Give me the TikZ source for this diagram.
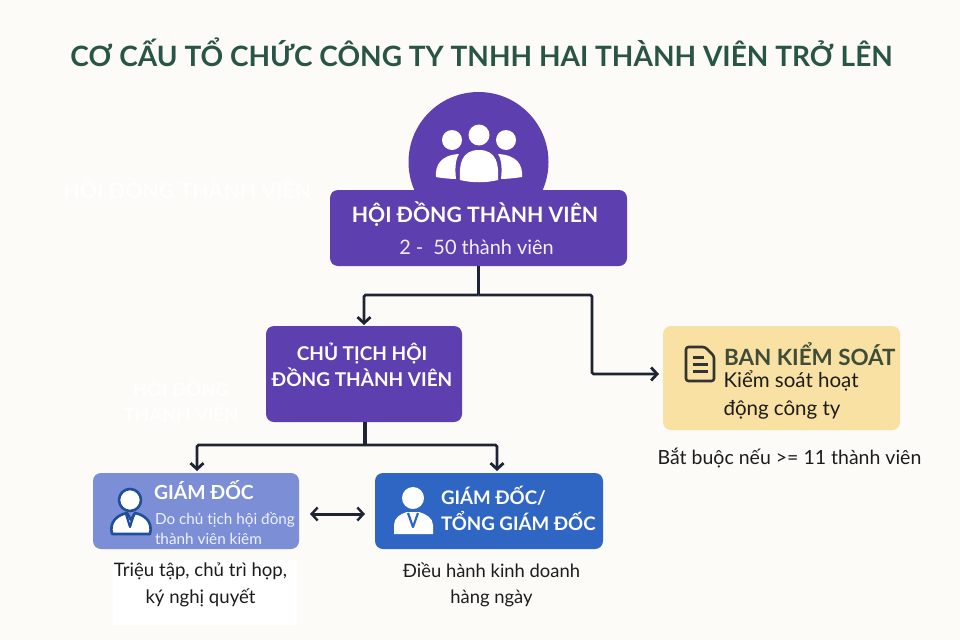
\documentclass[tikz,border=0pt]{standalone}
\usepackage{fontspec}
\setmainfont{Lato}
\usetikzlibrary{arrows.meta,calc}
\definecolor{bgc}{HTML}{FDFBF7}
\definecolor{purp}{HTML}{5E3FAF}
\definecolor{lblue}{HTML}{7C8FD6}
\definecolor{dblue}{HTML}{2F66C3}
\definecolor{iconblue}{HTML}{1F4E9C}
\definecolor{yel}{HTML}{F8E1A3}
\definecolor{titlec}{HTML}{285545}
\definecolor{olive}{HTML}{3E4C38}
\definecolor{linec}{HTML}{1E2433}
\definecolor{ink}{HTML}{1C1C1C}
\tikzset{
  x=1pt,y=-1pt,
  card/.style={rounded corners=8pt,inner sep=0pt,outer sep=0pt,anchor=center},
  label/.style={inner sep=0pt,outer sep=0pt,align=center},
  flow/.style={draw=linec,line width=2.8pt,rounded corners=1.5pt,-{Straight Barb[length=6pt,width=13pt,line width=2.8pt]}},
  trunk/.style={draw=linec,line width=3.1pt},
  twoway/.style={draw=linec,line width=3pt,{Straight Barb[length=6pt,width=13pt,line width=2.4pt]}-{Straight Barb[length=6pt,width=13pt,line width=2.4pt]}},
  ghost/.style={label,text=white,opacity=.8,font=\bfseries},
}
\begin{document}
\begin{tikzpicture}
\useasboundingbox (0,0) rectangle (960,640);
\fill[bgc] (0,0) rectangle (960,640);
\fill[white] (113,560) rectangle (297,625);
% ghost texts
\node[ghost,font=\bfseries\fontsize{21.3}{25}\selectfont] (g1) at (187.5,190) {HỘI ĐỒNG THÀNH VIÊN};
\node[ghost,font=\bfseries\fontsize{18.5}{25}\selectfont] (g2) at (181,399.5) {HỘI ĐỒNG\\THÀNH VIÊN};
% title
\node[label,text=titlec,font=\bfseries\fontsize{28}{32}\selectfont] (title) at (481.5,52) {CƠ CẤU TỔ CHỨC CÔNG TY TNHH HAI THÀNH VIÊN TRỞ LÊN};
% top card
\fill[purp] (478.5,162) circle[radius=70];
\node[card,fill=purp,minimum width=297pt,minimum height=76pt] (hd) at (478.5,228) {};
\node[label,text=white,font=\bfseries\fontsize{21.2}{25}\selectfont] (hdt) at (475,214) {HỘI ĐỒNG THÀNH VIÊN};
\node[label,text=white!92!purp,font=\fontsize{19.9}{23}\selectfont] (hds) at (476.5,247) {2 -\ \ 50 thành viên};
% people icon
\fill[white] (479,135) circle[radius=10.5] (452,140) circle[radius=10] (506,140) circle[radius=10];
\fill[white] (460,180) .. controls (459,165) and (461,150) .. (479,150) .. controls (497,150) and (499,165) .. (498,180) .. controls (486,183) and (472,183) .. (460,180) -- cycle;
\fill[white] (456,179) .. controls (451,179) and (441,178) .. (436,177) .. controls (435,165) and (441,155) .. (459,154) .. controls (455,160) and (455,170) .. (456,179) -- cycle;
\fill[white] (501,179) .. controls (506,179) and (516,178) .. (522,177) .. controls (523,165) and (517,155) .. (498,154) .. controls (502,160) and (502,170) .. (501,179) -- cycle;
% chairman
\node[card,fill=purp,minimum width=196pt,minimum height=96pt] (ct) at (364,374) {};
\node[label,text=white,font=\bfseries\fontsize{19}{26}\selectfont] (ctt) at (362,364.5) {CHỦ TỊCH HỘI\\ĐỒNG THÀNH VIÊN};
% supervisory
\node[card,fill=yel,minimum width=237pt,minimum height=104pt] (bks) at (781.5,378) {};
\draw[ink!90,line width=2.6pt,line join=round,rounded corners=2.5pt] (686,347) -- (705,347) -- (714,356) -- (714,381) -- (686,381) -- cycle;
\draw[ink!90,line width=2.2pt] (693,357.5) -- (704,357.5) (693,364.5) -- (708,364.5) (693,371.5) -- (708,371.5);
\node[label,text=olive,font=\bfseries\fontsize{22.4}{26}\selectfont,anchor=west] (bkst) at (724,354.5) {BAN KIỂM SOÁT};
\node[label,text=ink,font=\fontsize{20.5}{28.5}\selectfont,anchor=west,align=left] (bkss) at (723.5,395) {Kiểm soát hoạt\\động công ty};
\node[label,text=ink,font=\fontsize{19.5}{23}\selectfont] (bksn) at (789.5,458) {Bắt buộc nếu >= 11 thành viên};
% director (light)
\node[card,fill=lblue,minimum width=206pt,minimum height=76pt] (gd) at (196,511) {};
\draw[iconblue,fill=white,line width=2.6pt,line join=round] (112,534) .. controls (109,522) and (117,515) .. (127,513) -- (131,520) -- (135,513) .. controls (145,515) and (153,522) .. (150,534) -- cycle;
\draw[iconblue,fill=white,line width=2.6pt] (130,500) circle[radius=11];
\draw[iconblue,line width=2.2pt,line join=round] (126,514) -- (130,527) -- (134,514);
\node[label,text=white,font=\bfseries\fontsize{19.4}{24}\selectfont,anchor=west] (gdt) at (154,490.5) {GIÁM ĐỐC};
\node[label,text=white!88!lblue,font=\fontsize{15.3}{20.5}\selectfont,anchor=west,align=left] (gds) at (155,528.5) {Do chủ tịch hội đồng\\thành viên kiêm};
\node[label,text=ink,font=\fontsize{18.6}{26.5}\selectfont] (gdn) at (200.5,585) {Triệu tập, chủ trì họp,\\ký nghị quyết};
% CEO
\node[card,fill=dblue,minimum width=228pt,minimum height=76pt] (tgd) at (489,511) {};
\fill[white] (413,498) circle[radius=11];
\fill[white] (394,534) -- (394,525) .. controls (394,518) and (400,514) .. (407,512) -- (419,512) .. controls (426,514) and (433,518) .. (433,525) -- (433,534) -- cycle;
\draw[dblue,line width=2.2pt,line join=round] (408,513) -- (413,527) -- (418,513);
\node[label,text=white,font=\bfseries\fontsize{18.7}{25.5}\selectfont,align=left,anchor=west] (tgdt) at (441,508.5) {GIÁM ĐỐC/\\TỔNG GIÁM ĐỐC};
\node[label,text=ink,font=\fontsize{18.4}{26.5}\selectfont] (tgdn) at (491.5,585) {Điều hành kinh doanh\\hàng ngày};
% connectors
\coordinate (j1) at ($(hd.south)+(0,29)$);
\coordinate (j2) at ($(ct.south)+(1,23)$);
\coordinate (bksin) at (659,374);
\coordinate (rt) at (592,295);
\coordinate (ctin) at ($(ct.north)+(0,-1)$);
\coordinate (gdin) at ($(gd.north)+(1,-2)$);
\coordinate (tgdin) at ($(tgd.north)+(8,-2)$);
\coordinate (dl) at ($(gd.east)+(11,3)$);
\coordinate (dr) at ($(tgd.west)+(-10,3)$);
\draw[trunk] (hd.south) -- (j1);
\draw[flow] (j1) -| (ctin);
\draw[flow] (j1) -- (rt) |- (bksin);
\draw[trunk] ($(ct.south)+(1,0)$) -- (j2);
\draw[flow] (j2) -| (gdin);
\draw[flow] (j2) -| (tgdin);
\draw[twoway] (dl) -- (dr);
\end{tikzpicture}
\end{document}
